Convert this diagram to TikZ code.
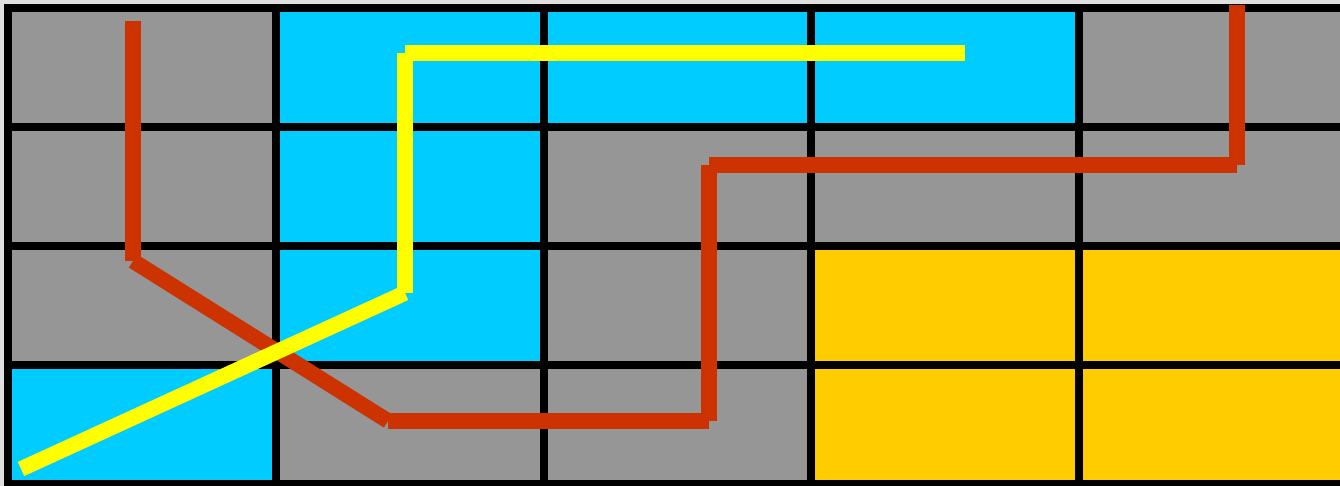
\documentclass[tikz,border=0pt]{standalone}
\usepackage{tikz}

\begin{document}
\begin{tikzpicture}[x=0.01cm, y=-0.01cm]
  \def\cw{267.75}
  \def\ch{119}
  \colorlet{tileG}{black!41}
  \definecolor{tileC}{RGB}{0,204,255}
  \definecolor{tileO}{RGB}{255,204,0}
  \definecolor{routeR}{RGB}{204,51,0}
  \definecolor{routeY}{RGB}{255,255,0}

  \useasboundingbox (0,0) rectangle (1340,486);
  \clip (0,0) rectangle (1340,486);
  \fill[black!12] (0,0) rectangle (1340,486);

  %--- cells: 4 rows x 5 cols (G = gray, C = cyan, O = gold) ---
  \foreach \r/\row in {0/{G,C,C,C,G}, 1/{G,C,G,G,G}, 2/{G,C,G,O,O}, 3/{C,G,G,O,O}} {
    \foreach \f [count=\c from 0] in \row {
      \fill[tile\f] ({8+\c*\cw},{8+\r*\ch}) rectangle ({8+(\c+1)*\cw},{8+(\r+1)*\ch});
    }
  }

  %--- grid lines ---
  \foreach \c in {0,...,5}
    \draw[line width=0.08cm] ({8+\c*\cw},4) -- ({8+\c*\cw},490);
  \foreach \r in {0,...,4}
    \draw[line width=0.08cm] (4,{8+\r*\ch}) -- (1350,{8+\r*\ch});

  %--- red route, one segment at a time ---
  \foreach \xa/\ya/\xb/\yb in {133/21/133/261, 133/261/388/421, 388/421/709/421,
                               709/421/709/165, 709/165/1237/165, 1237/165/1237/5}
    \draw[routeR, line width=0.155cm] (\xa,\ya) -- (\xb,\yb);

  %--- yellow route ---
  \foreach \xa/\ya/\xb/\yb in {21/469/405/293, 405/293/405/53, 405/53/965/53}
    \draw[routeY, line width=0.155cm] (\xa,\ya) -- (\xb,\yb);

\end{tikzpicture}
\end{document}
